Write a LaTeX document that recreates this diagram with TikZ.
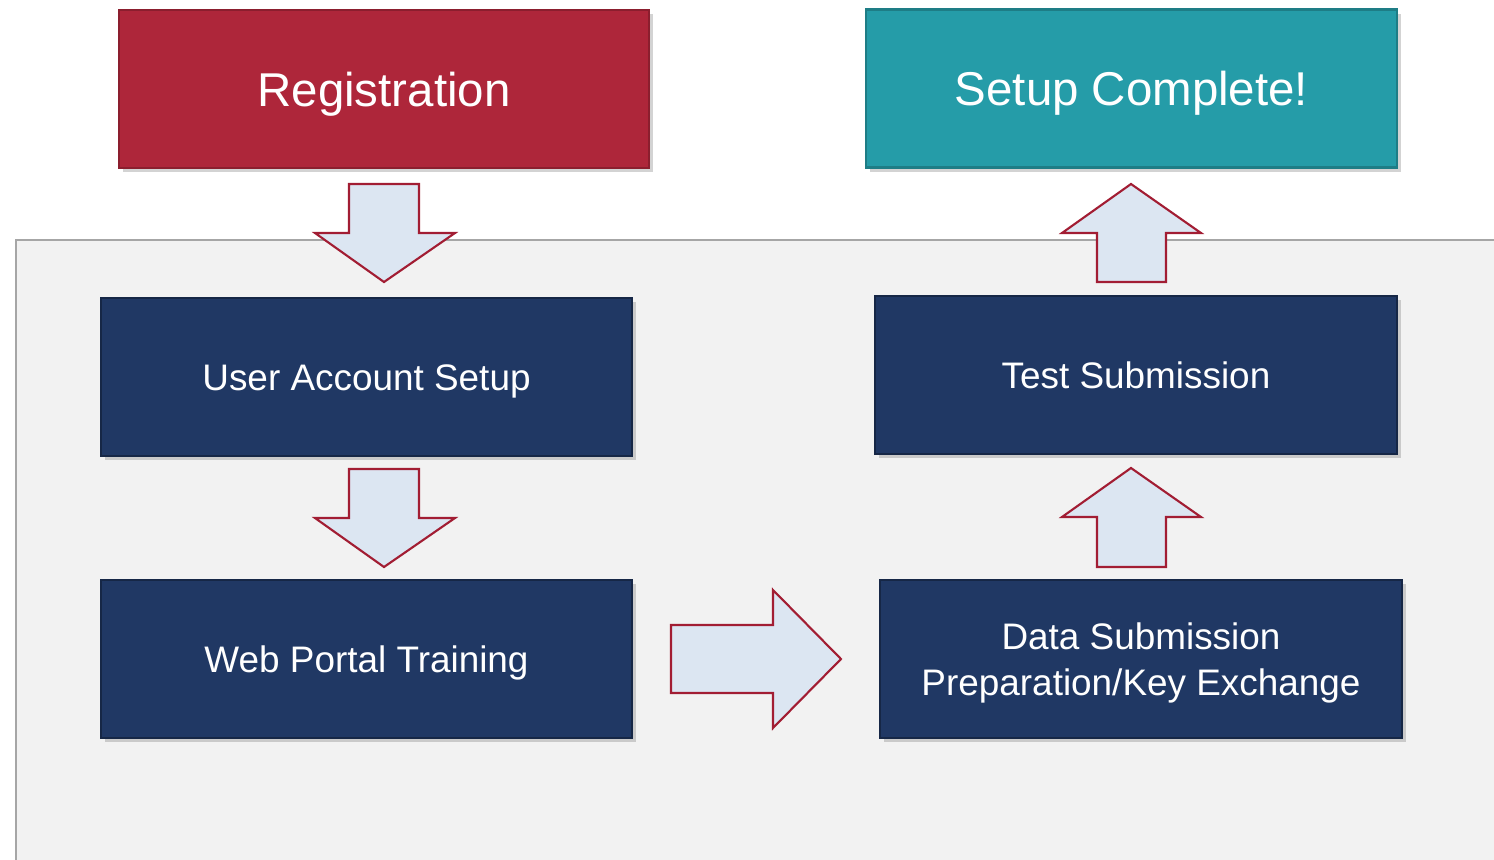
\documentclass[tikz,border=0pt]{standalone}
\usepackage{fontspec}
\setmainfont{Liberation Sans}
\usetikzlibrary{shadows}
\definecolor{regred}{HTML}{AE263A}
\definecolor{doneteal}{HTML}{259CA8}
\definecolor{stepnavy}{HTML}{203864}
\definecolor{arrowfill}{HTML}{DCE6F2}
\definecolor{arrowline}{HTML}{A21D33}
\definecolor{panelfill}{HTML}{F2F2F2}
\definecolor{panelline}{HTML}{A6A6A6}
\tikzset{
  stagebox/.style={rectangle, minimum width=5.3cm, minimum height=1.58cm, text=white,
    align=center, line width=0.6pt,
    drop shadow={shadow xshift=0.04cm, shadow yshift=-0.04cm, opacity=0.35}},
  bigbox/.style={stagebox, font=\fontsize{13.5}{16}\selectfont, text height=9.7pt, text depth=0pt},
  smallbox/.style={stagebox, minimum width=5.22cm, font=\fontsize{10.5}{13}\selectfont},
  oneline/.style={text height=7.5pt, text depth=0pt},
  fatarrow/.style={fill=arrowfill, draw=arrowline, line width=0.6pt, line join=miter}
}
\begin{document}
\begin{tikzpicture}
 \useasboundingbox (0,0) rectangle (14.94,8.59);
 % grey panel
 \begin{scope}
  \clip (0,0) rectangle (14.94,8.59);
  \fill[panelfill] (0.16,-0.5) rectangle (15.5,6.19);
  \draw[panelline, line width=0.6pt] (0.16,-0.5) -- (0.16,6.19) -- (15.5,6.19);
 \end{scope}
%
 \node[bigbox, fill=regred, draw=regred!80!black] (reg) at (3.84,7.70) {Registration};
 \node[bigbox, minimum width=5.31cm, fill=doneteal, draw=doneteal!80!black] (done) at (11.315,7.705) {Setup Complete!};
 \node[smallbox, oneline, minimum width=5.31cm, fill=stepnavy, draw=stepnavy!70!black] (acct) at (3.665,4.82) {User Account Setup};
 \node[smallbox, oneline, minimum width=5.31cm, fill=stepnavy, draw=stepnavy!70!black] (train) at (3.665,2.00) {Web Portal Training};
 \node[smallbox, oneline, fill=stepnavy, draw=stepnavy!70!black] (test) at (11.36,4.84) {Test Submission};
 \node[smallbox, text depth=-1pt, fill=stepnavy, draw=stepnavy!70!black] (data) at (11.41,2.00) {Data Submission\\Preparation/Key Exchange};
%
 \draw[fatarrow] (3.49,6.75) -- (4.19,6.75) -- (4.19,6.26) -- (4.55,6.26) -- (3.84,5.77) -- (3.15,6.26) -- (3.49,6.26) -- cycle;
 \draw[fatarrow] (3.49,3.90) -- (4.19,3.90) -- (4.19,3.41) -- (4.55,3.41) -- (3.84,2.92) -- (3.15,3.41) -- (3.49,3.41) -- cycle;
 \draw[fatarrow] (6.71,2.34) -- (7.73,2.34) -- (7.73,2.69) -- (8.41,2.00) -- (7.73,1.31) -- (7.73,1.66) -- (6.71,1.66) -- cycle;
 \draw[fatarrow] (10.97,2.92) -- (11.66,2.92) -- (11.66,3.42) -- (12.01,3.42) -- (11.31,3.91) -- (10.62,3.42) -- (10.97,3.42) -- cycle;
 \draw[fatarrow] (10.97,5.77) -- (11.66,5.77) -- (11.66,6.26) -- (12.01,6.26) -- (11.31,6.75) -- (10.62,6.26) -- (10.97,6.26) -- cycle;
\end{tikzpicture}
\end{document}
